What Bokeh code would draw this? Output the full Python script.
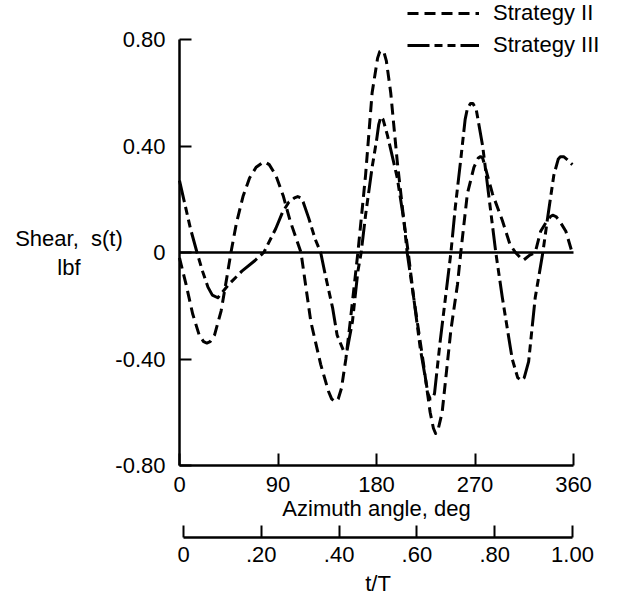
from bokeh.plotting import figure
from bokeh.models import (Range1d, LinearAxis, FixedTicker, Label, Legend,
                          LegendItem, ColumnDataSource)
from bokeh.embed import file_html
from bokeh.resources import INLINE

# ---- data (azimuth angle in deg, shear in lbf) ----
deg_ii = [0, 6, 12, 18, 22, 25, 28, 32, 38, 43, 47, 52, 58, 64, 70, 75, 78, 82, 88,
          95, 101, 106, 111, 120, 129, 136, 139, 142, 145, 148, 152, 156, 163, 170,
          176, 181, 183, 185, 187, 189, 193, 199, 205, 209, 214, 223, 229, 232, 234,
          236, 240, 248, 254, 257, 263, 269, 273, 275, 277, 280, 286, 295, 302, 307,
          314, 320, 325, 330, 336, 339, 341, 344, 347, 353, 358]
shear_ii = [-0.02, -0.12, -0.23, -0.31, -0.335, -0.34, -0.335, -0.31, -0.22, -0.10,
            0.0, 0.11, 0.21, 0.28, 0.32, 0.335, 0.34, 0.33, 0.29, 0.21, 0.12, 0.06,
            0.0, -0.26, -0.42, -0.52, -0.55, -0.56, -0.55, -0.51, -0.40, -0.26, 0.0,
            0.29, 0.60, 0.73, 0.755, 0.76, 0.75, 0.72, 0.60, 0.34, 0.12, 0.0, -0.17,
            -0.42, -0.60, -0.66, -0.68, -0.67, -0.60, -0.29, -0.12, 0.0, 0.22, 0.32,
            0.355, 0.36, 0.355, 0.31, 0.22, 0.12, 0.03, 0.0, -0.03, -0.01, 0.0, 0.08,
            0.12, 0.135, 0.14, 0.135, 0.12, 0.08, 0.01]

deg_iii = [0, 5, 10, 16, 21, 26, 30, 35, 45, 57, 69, 77, 88, 94, 100, 105, 108, 111,
           113, 118, 124, 129, 133, 140, 144, 150, 153, 158, 163, 166, 170, 176, 180,
           182, 184, 186, 190, 199, 205, 208, 214, 220, 225, 227, 229, 231, 233, 238,
           243, 248, 252, 257, 261, 263, 266, 268, 271, 277, 283, 289, 295, 304, 309,
           312, 315, 319, 325, 332, 336, 342, 346, 348, 351, 354, 359]
shear_iii = [0.27, 0.18, 0.09, 0.0, -0.07, -0.13, -0.16, -0.17, -0.12, -0.07, -0.03,
             0.0, 0.09, 0.15, 0.19, 0.205, 0.21, 0.205, 0.19, 0.13, 0.05, 0.0, -0.08,
             -0.21, -0.31, -0.37, -0.37, -0.26, -0.07, 0.0, 0.14, 0.32, 0.42, 0.48,
             0.51, 0.50, 0.44, 0.28, 0.12, 0.0, -0.17, -0.36, -0.48, -0.53, -0.55,
             -0.55, -0.53, -0.34, -0.17, 0.0, 0.17, 0.35, 0.50, 0.54, 0.56, 0.56, 0.54,
             0.40, 0.20, 0.0, -0.17, -0.40, -0.47, -0.48, -0.47, -0.41, -0.17, 0.0,
             0.12, 0.29, 0.35, 0.36, 0.36, 0.35, 0.33]

series_labels = ["Strategy II", "Strategy III"]
y_ticks = [-0.8, -0.4, 0.0, 0.4, 0.8]
y_tick_labels = ["-0.80", "-0.40", "0", "0.40", "0.80"]
x_ticks = [0, 90, 180, 270, 360]
t_ticks = [0.0, 0.2, 0.4, 0.6, 0.8, 1.0]
t_tick_labels = ["0", ".20", ".40", ".60", ".80", "1.00"]

FONT = "Liberation Sans"
FS = "22px"

W, H = 629, 594
# frame covers the whole canvas; axes are pinned inside it
X0, X360 = 179.0, 573.0          # pixel columns of 0 and 360 deg
Y08, Ym08 = 39.0, 465.0          # pixel rows of +0.8 and -0.8
PX_DEG = (X360 - X0) / 360.0
PX_UNIT = (Ym08 - Y08) / 1.6
x_rng = Range1d(-X0 / PX_DEG, (W - X0) / PX_DEG)
y_rng = Range1d(-0.8 - (H - Ym08) / PX_UNIT, 0.8 + Y08 / PX_UNIT)
T0, T1 = 183.0, 572.0            # pixel columns of t/T = 0 and 1
t_rng = Range1d(-T0 / (T1 - T0), (W - T0) / (T1 - T0))
T_AXIS_ROW = 537.0
t_axis_y = -0.8 - (T_AXIS_ROW - Ym08) / PX_UNIT

p = figure(width=W, height=H, output_backend="svg", toolbar_location=None,
           x_range=x_rng, y_range=y_rng, min_border=0, min_border_left=0,
           min_border_right=0, min_border_top=0, min_border_bottom=0,
           x_axis_type=None, y_axis_type=None)
p.outline_line_color = None
p.grid.visible = False
p.extra_x_ranges = {"t": t_rng}

def style_axis(ax):
    ax.axis_line_width = 2.5
    ax.axis_line_color = "black"
    ax.major_tick_line_width = 2
    ax.major_tick_line_color = "black"
    ax.major_tick_in = 12
    ax.major_tick_out = 0
    ax.minor_tick_line_color = None
    ax.major_label_text_font = FONT
    ax.major_label_text_font_size = FS
    ax.major_label_text_color = "black"
    ax.axis_label_text_font = FONT
    ax.axis_label_text_font_size = FS
    ax.axis_label_text_font_style = "normal"
    ax.axis_label_text_color = "black"

yax = LinearAxis(ticker=FixedTicker(ticks=y_ticks), fixed_location=x_ticks[0],
                 bounds=(y_ticks[0], y_ticks[-1]))
yax.major_label_overrides = {t: l for t, l in zip(y_ticks, y_tick_labels)}
style_axis(yax)
yax.major_label_standoff = 14
p.add_layout(yax, "left")

xax = LinearAxis(ticker=FixedTicker(ticks=x_ticks), axis_label="Azimuth angle, deg",
                 fixed_location=y_ticks[0], bounds=(x_ticks[0], x_ticks[-1]))
style_axis(xax)
xax.major_label_standoff = 11
xax.axis_label_standoff = 1
p.add_layout(xax, "below")

tax = LinearAxis(x_range_name="t", ticker=FixedTicker(ticks=t_ticks), axis_label="t/T",
                 fixed_location=t_axis_y, bounds=(t_ticks[0], t_ticks[-1]))
tax.major_label_overrides = {t: l for t, l in zip(t_ticks, t_tick_labels)}
style_axis(tax)
tax.major_label_standoff = 9
tax.axis_label_standoff = 6
p.add_layout(tax, "below")

# zero reference line across the azimuth range
p.line([x_ticks[0], x_ticks[-1]], [0, 0], line_color="black", line_width=2.5)

src2 = ColumnDataSource(dict(x=deg_ii, y=shear_ii))
src3 = ColumnDataSource(dict(x=deg_iii, y=shear_iii))
r2 = p.line("x", "y", source=src2, line_color="black", line_width=3,
            line_dash="11 6", line_join="round")
r3 = p.line("x", "y", source=src3, line_color="black", line_width=3,
            line_dash="22 5 8 5 8 5", line_join="round")

legend = Legend(items=[LegendItem(label=series_labels[0], renderers=[r2]),
                       LegendItem(label=series_labels[1], renderers=[r3])],
                location=(407, 536), glyph_width=72, glyph_height=20,
                label_standoff=14, spacing=6, padding=0, margin=0,
                border_line_color=None, background_fill_alpha=0,
                label_text_font=FONT, label_text_font_size=FS,
                label_text_color="black")
p.add_layout(legend, "center")

for txt, yv in (("Shear,\u00a0\u00a0s(t)", 0.053), ("lbf", -0.056)):
    p.add_layout(Label(x=-101, y=yv, text=txt, text_align="center",
                       text_baseline="middle", text_font=FONT,
                       text_font_size=FS, text_color="black"))

open("out.html", "w").write(file_html(p, INLINE))
